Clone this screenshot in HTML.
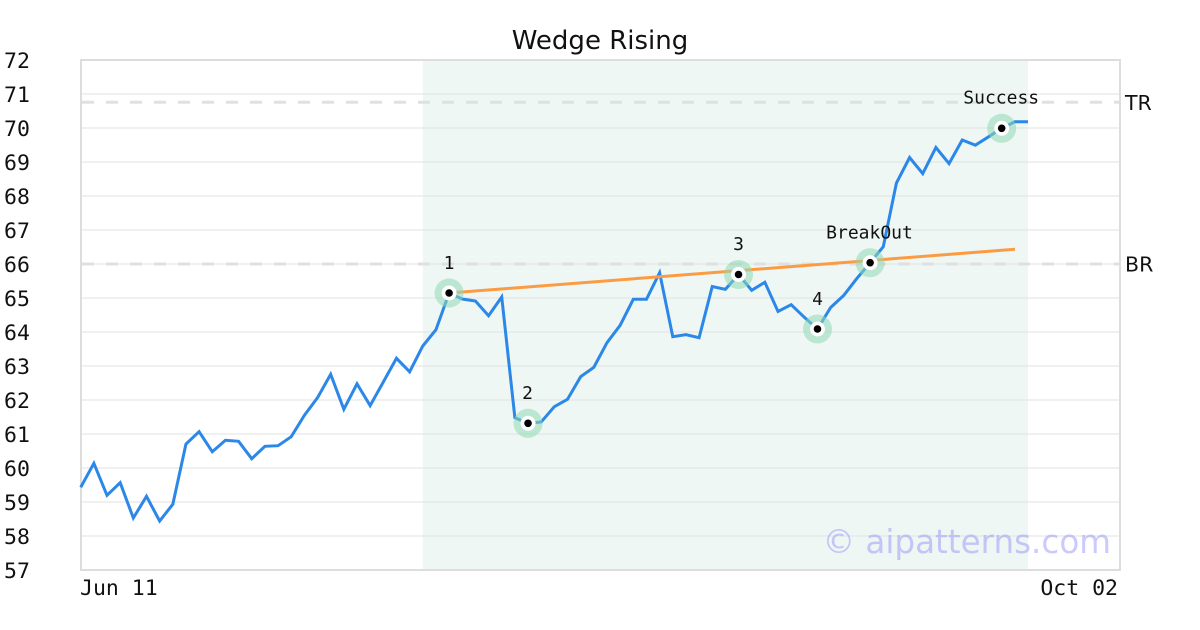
<!DOCTYPE html>
<html><head><meta charset="utf-8"><style>
html,body{margin:0;padding:0;background:#fff;}
svg{display:block;}
.mono{font-family:"DejaVu Sans Mono","Liberation Mono",monospace;}
.sans{font-family:"DejaVu Sans","Liberation Sans",sans-serif;}
</style></head><body>
<svg width="1200" height="630" viewBox="0 0 1200 630" xmlns="http://www.w3.org/2000/svg">
<rect x="0" y="0" width="1200" height="630" fill="#fff"/>
<!-- shaded region -->
<rect x="422.8" y="61" width="605.2" height="508" fill="#eef7f3"/>
<!-- grid -->
<g stroke="#e2e2e2" stroke-width="1">
<line x1="81" y1="94" x2="1120" y2="94"/>
<line x1="81" y1="128" x2="1120" y2="128"/>
<line x1="81" y1="162" x2="1120" y2="162"/>
<line x1="81" y1="196" x2="1120" y2="196"/>
<line x1="81" y1="230" x2="1120" y2="230"/>
<line x1="81" y1="264" x2="1120" y2="264"/>
<line x1="81" y1="298" x2="1120" y2="298"/>
<line x1="81" y1="332" x2="1120" y2="332"/>
<line x1="81" y1="366" x2="1120" y2="366"/>
<line x1="81" y1="400" x2="1120" y2="400"/>
<line x1="81" y1="434" x2="1120" y2="434"/>
<line x1="81" y1="468" x2="1120" y2="468"/>
<line x1="81" y1="502" x2="1120" y2="502"/>
<line x1="81" y1="536" x2="1120" y2="536"/>
</g>
<!-- dashed TR / BR -->
<g stroke="#e0e0e0" stroke-width="3" stroke-dasharray="12,12">
<line x1="82" y1="102.2" x2="1120" y2="102.2"/>
<line x1="82" y1="264" x2="1120" y2="264"/>
</g>
<!-- watermark -->
<text x="1111" y="553" text-anchor="end" class="sans" font-size="32.6" fill="#9696fa" fill-opacity="0.5">© aipatterns.com</text>
<!-- frame -->
<rect x="81" y="60" width="1039" height="510" fill="none" stroke="#dddddd" stroke-width="2"/>
<!-- price line -->
<polyline fill="none" stroke="#2b87e8" stroke-width="3" stroke-linejoin="miter" points="
80.7,487.3 93.86,463.3 107.01,495.3 120.17,482.7 133.33,518 146.49,496.3 159.64,521 172.80,504.3 185.96,444 199.11,431.7
212.27,451.7 225.43,440.3 238.58,441.3 251.74,458.7 264.90,446.3 278.06,445.7 291.21,436.7 304.37,415.3 317.53,397.7 330.68,374.3
343.84,409.3 357.00,383.8 370.15,405.6 383.31,382 396.47,358.3 409.63,371.8 422.78,346 435.94,329.7 449.10,293 462.25,299
475.41,301 488.57,315.7 501.72,297 514.88,417.7 528.04,423.3 541.20,422 554.35,406.7 567.51,399.3 580.67,376.7 593.82,367.3
606.98,342.7 620.14,325.3 633.29,299.3 646.45,299.3 659.61,272.7 672.77,336.7 685.92,334.7 699.08,337.7 712.24,286.5 725.39,289.3
738.55,274.5 751.71,290.3 764.86,282.3 778.02,311.5 791.18,304.7 804.34,317.3 817.49,329 830.65,307.5 843.81,295.3 856.96,278.3
870.12,262.7 883.28,246.7 896.43,183 909.59,157.5 922.75,173.6 935.91,147.5 949.06,163.6 962.22,140 975.38,145.2 988.53,136.8
1001.69,128.3 1014.85,121.8 1028.0,121.8"/>
<!-- orange trend line -->
<line x1="449.1" y1="293" x2="1015" y2="249.3" stroke="#fb9c44" stroke-width="3"/>
<!-- markers -->
<g>
<circle cx="449.1" cy="293" r="14.5" fill="#8fd9b6" fill-opacity="0.55"/>
<circle cx="528.04" cy="423.3" r="14.5" fill="#8fd9b6" fill-opacity="0.55"/>
<circle cx="738.55" cy="274.5" r="14.5" fill="#8fd9b6" fill-opacity="0.55"/>
<circle cx="817.49" cy="329" r="14.5" fill="#8fd9b6" fill-opacity="0.55"/>
<circle cx="870.12" cy="262.7" r="14.5" fill="#8fd9b6" fill-opacity="0.55"/>
<circle cx="1001.69" cy="128.3" r="14.5" fill="#8fd9b6" fill-opacity="0.55"/>
</g>
<g fill="#fff">
<circle cx="449.1" cy="293" r="7.5"/>
<circle cx="528.04" cy="423.3" r="7.5"/>
<circle cx="738.55" cy="274.5" r="7.5"/>
<circle cx="817.49" cy="329" r="7.5"/>
<circle cx="870.12" cy="262.7" r="7.5"/>
<circle cx="1001.69" cy="128.3" r="7.5"/>
</g>
<g fill="#000">
<circle cx="449.1" cy="293" r="3.8"/>
<circle cx="528.04" cy="423.3" r="3.8"/>
<circle cx="738.55" cy="274.5" r="3.8"/>
<circle cx="817.49" cy="329" r="3.8"/>
<circle cx="870.12" cy="262.7" r="3.8"/>
<circle cx="1001.69" cy="128.3" r="3.8"/>
</g>
<!-- point labels -->
<g class="mono" font-size="18" fill="#111" text-anchor="middle">
<text x="449" y="269">1</text>
<text x="527.5" y="399">2</text>
<text x="738.5" y="250">3</text>
<text x="817.5" y="305">4</text>
<text x="869.5" y="238.5">BreakOut</text>
<text x="1001.2" y="103.5">Success</text>
</g>
<!-- right labels -->
<g class="sans" font-size="20.5" fill="#111">
<text x="1125" y="110">TR</text>
<text x="1125" y="271.5">BR</text>
</g>
<!-- y tick labels -->
<g class="mono" font-size="21.5" fill="#111">
<text x="4" y="68">72</text>
<text x="4" y="102">71</text>
<text x="4" y="136">70</text>
<text x="4" y="170">69</text>
<text x="4" y="204">68</text>
<text x="4" y="238">67</text>
<text x="4" y="272">66</text>
<text x="4" y="306">65</text>
<text x="4" y="340">64</text>
<text x="4" y="374">63</text>
<text x="4" y="408">62</text>
<text x="4" y="442">61</text>
<text x="4" y="476">60</text>
<text x="4" y="510">59</text>
<text x="4" y="544">58</text>
<text x="4" y="578">57</text>
</g>
<!-- x tick labels -->
<g class="mono" font-size="21.5" fill="#111">
<text x="80" y="595">Jun 11</text>
<text x="1118" y="595" text-anchor="end">Oct 02</text>
</g>
<!-- title -->
<text x="600" y="49" text-anchor="middle" class="sans" font-size="26" fill="#111">Wedge Rising</text>
</svg>
</body></html>
